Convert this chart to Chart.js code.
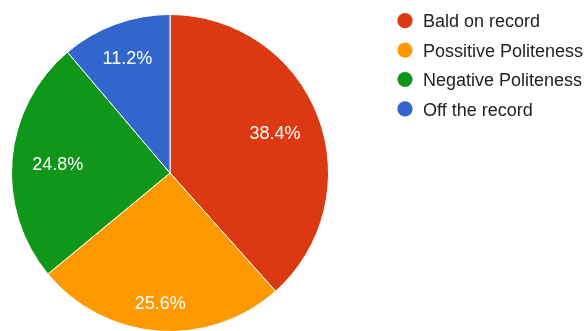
<!DOCTYPE html>
<html>
<head>
<meta charset="utf-8">
<script src="https://cdn.jsdelivr.net/npm/chart.js@4"></script>
<style>
    html, body { margin: 0; padding: 0; background: #fff; overflow: hidden; }
    #wrap { width: 587px; height: 331px; overflow: hidden; position: relative; }
</style>
</head>
<body>
<div id="wrap"><canvas id="pieChart" width="587" height="340"></canvas></div>
<script>
const categories = ["Bald on record", "Possitive Politeness", "Negative Politeness", "Off the record"];
const percentages = [38.4, 25.6, 24.8, 11.2];
const sliceColors = ["#dc3912", "#ff9900", "#109618", "#3366cc"];

const FONT = "'Liberation Sans', Arial, sans-serif";

// percentage text inside each slice, box pushed out until its outer edge hits ~0.875 r
const sliceLabels = {
    id: "sliceLabels",
    afterDatasetsDraw(chart) {
        const ctx = chart.ctx;
        const meta = chart.getDatasetMeta(0);
        ctx.save();
        ctx.font = "18px " + FONT;
        ctx.fillStyle = "#ffffff";
        ctx.textAlign = "center";
        ctx.textBaseline = "alphabetic";
        meta.data.forEach((arc, i) => {
            const p = arc.getProps(["x", "y", "startAngle", "endAngle", "outerRadius"], true);
            const text = percentages[i].toFixed(1) + "%";
            const hw = ctx.measureText(text).width / 2;
            const hh = 7;
            const mid = (p.startAngle + p.endAngle) / 2;
            const cx = Math.cos(mid), cy = Math.sin(mid);
            const r = p.outerRadius * 0.875 - (hw * Math.abs(cx) + hh * Math.abs(cy));
            ctx.fillText(text, p.x + cx * r, p.y + cy * r + 6.5);
        });
        ctx.restore();
    },
};

// legend on the right, dots + names
const sideLegend = {
    id: "sideLegend",
    afterDraw(chart) {
        const ctx = chart.ctx;
        ctx.save();
        ctx.font = "18px " + FONT;
        ctx.textAlign = "left";
        ctx.textBaseline = "alphabetic";
        chart.data.labels.forEach((label, i) => {
            const cy = 20.7 + i * 29.4;
            ctx.beginPath();
            ctx.arc(405, cy, 7.6, 0, Math.PI * 2);
            ctx.fillStyle = sliceColors[i];
            ctx.fill();
            ctx.fillStyle = "#222222";
            ctx.fillText(label, 423, cy + 6.6);
        });
        ctx.restore();
    },
};

new Chart(document.getElementById("pieChart"), {
    type: "pie",
    data: {
        labels: categories,
        datasets: [
            {
                data: percentages,
                backgroundColor: sliceColors,
                borderColor: "#ffffff",
                borderWidth: 1,
            },
        ],
    },
    options: {
        responsive: false,
        animation: false,
        devicePixelRatio: 1,
        layout: { padding: { left: 11, top: 13.5, right: 258, bottom: 7.5 } },
        plugins: {
            legend: { display: false },
            tooltip: { enabled: false },
        },
    },
    plugins: [sliceLabels, sideLegend],
});
</script>
</body>
</html>
